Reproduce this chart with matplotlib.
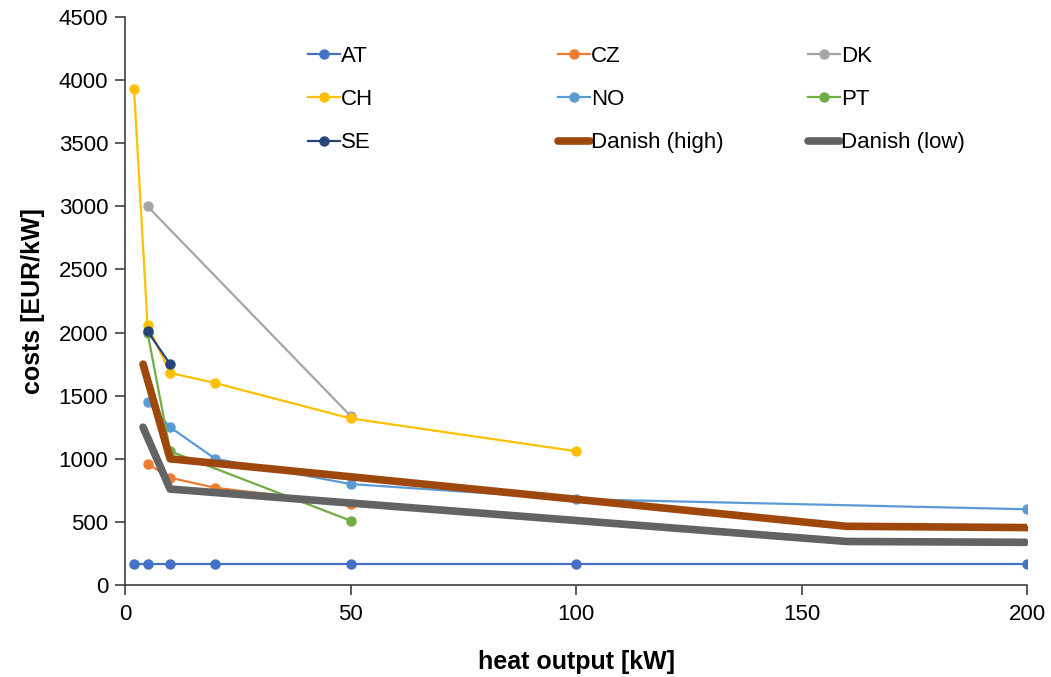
import matplotlib
matplotlib.use("Agg")
import matplotlib.pyplot as plt

plt.rcParams["font.family"] = ["Liberation Sans", "DejaVu Sans"]

# heat output [kW] and costs [EUR/kW] per series
at_x = [2, 5, 10, 20, 50, 100, 200]
at_y = [170, 170, 170, 170, 170, 170, 170]
cz_x = [5, 10, 20, 50]
cz_y = [960, 850, 770, 645]
dk_x = [5, 50]
dk_y = [3000, 1340]
ch_x = [2, 5, 10, 20, 50, 100]
ch_y = [3930, 2060, 1680, 1600, 1320, 1060]
no_x = [5, 10, 20, 50, 100, 200]
no_y = [1450, 1250, 1000, 800, 680, 600]
pt_x = [5, 10, 50]
pt_y = [2000, 1060, 510]
se_x = [5, 10]
se_y = [2010, 1750]
dh_x = [4, 10, 160, 200]
dh_y = [1750, 1000, 465, 455]
dl_x = [4, 10, 160, 200]
dl_y = [1250, 760, 345, 338]

W, H = 1051, 677
fig = plt.figure(figsize=(W / 100, H / 100), dpi=100)
ax = fig.add_axes([125 / W, 1 - 585 / H, (1027 - 125) / W, (585 - 17) / H])

thin = dict(lw=1.6, marker="o", ms=6.5)
h_at, = ax.plot(at_x, at_y, color="#4472C4", label="AT", **thin)
h_cz, = ax.plot(cz_x, cz_y, color="#ED7D31", label="CZ", **thin)
h_dk, = ax.plot(dk_x, dk_y, color="#A5A5A5", label="DK", **thin)
h_ch, = ax.plot(ch_x, ch_y, color="#FFC000", label="CH", **thin)
h_no, = ax.plot(no_x, no_y, color="#5B9BD5", label="NO", **thin)
h_pt, = ax.plot(pt_x, pt_y, color="#70AD47", label="PT", **thin)
h_se, = ax.plot(se_x, se_y, color="#264478", label="SE", **thin)
h_dh, = ax.plot(dh_x, dh_y, color="#9E480E", lw=5.5, marker="o", ms=3,
                solid_capstyle="round", label="Danish (high)")
h_dl, = ax.plot(dl_x, dl_y, color="#636363", lw=5.5, marker="o", ms=3,
                solid_capstyle="round", label="Danish (low)")

# legend: three fixed columns, rows read AT CZ DK / CH NO PT / SE ...
columns = [([h_at, h_ch, h_se], 308), ([h_cz, h_no, h_dh], 558),
           ([h_dk, h_pt, h_dl], 808)]
for hs, xpix in columns:
    fig.legend(handles=hs, loc="upper left",
               bbox_to_anchor=(xpix / W, 1 - 46 / H),
               frameon=False, fontsize=16, handlelength=1.45,
               handletextpad=0.05, labelspacing=1.0,
               borderpad=0, borderaxespad=0)

ax.set_xlim(0, 200)
ax.set_ylim(0, 4500)
ax.set_xticks(range(0, 201, 50))
ax.set_yticks(range(0, 4501, 500))
ax.tick_params(labelsize=16, color="#404040", length=7, width=1.2)
ax.tick_params(axis="x", pad=7)
ax.tick_params(axis="y", pad=5)
for s in ["top", "right"]:
    ax.spines[s].set_visible(False)
for s in ["left", "bottom"]:
    ax.spines[s].set_color("#404040")
    ax.spines[s].set_linewidth(1.2)
ax.set_xlabel("heat output [kW]", fontsize=18, fontweight="bold", labelpad=18)
ax.set_ylabel("costs [EUR/kW]", fontsize=18, fontweight="bold", labelpad=10)

fig.savefig("out.png", dpi=100)
